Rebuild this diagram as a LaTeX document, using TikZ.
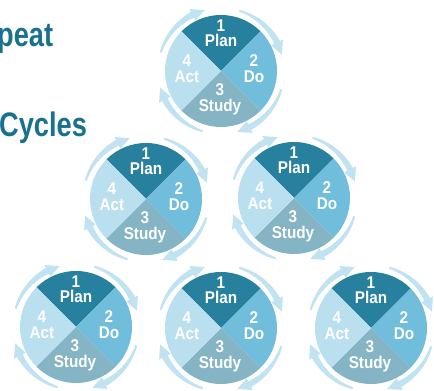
\documentclass[tikz,border=0pt]{standalone}
\usepackage{fontspec}
\setmainfont{Liberation Sans}
\usetikzlibrary{calc}
\definecolor{planC}{RGB}{38,128,158}
\definecolor{doC}{RGB}{112,189,220}
\definecolor{studyC}{RGB}{133,180,196}
\definecolor{actC}{RGB}{186,224,240}
\definecolor{ringC}{RGB}{192,226,241}
\definecolor{titleC}{RGB}{24,113,143}
\tikzset{
  ringarrow/.style={fill=ringC},
  lbl/.style={text=white, font=\bfseries\fontsize{17}{17}\selectfont, inner sep=0pt, anchor=base},
  ttl/.style={text=titleC, font=\bfseries\fontsize{34}{34}\selectfont, inner sep=0pt, anchor=base west}
}
\newcommand{\sq}[1]{\scalebox{0.9}[1]{#1}}
\newcommand{\pdsa}[2]{%
  \coordinate (#1) at #2;
  \foreach \t in {0,1,2,3}{
    \pgfmathsetmacro\ta{163-90*\t}
    \pgfmathsetmacro\tb{117-90*\t}
    \pgfmathsetmacro\tc{105-90*\t}
    \fill[ringarrow, shift={(#1)}]
      plot[domain=\ta:\tb, samples=18] (\x:{64+2.2*(\ta-\x)/(\ta-\tb)})
      -- (\tb:69.5) -- (\tc:63) -- (\tb:56.5)
      -- plot[domain=\tb:\ta, samples=18] (\x:{62-2.2*(\ta-\x)/(\ta-\tb)})
      -- cycle;
  }
  \fill[planC] (#1) -- ++(45:56) arc[start angle=45, end angle=135, radius=56] -- cycle;
  \fill[doC] (#1) -- ++(-45:56) arc[start angle=-45, end angle=45, radius=56] -- cycle;
  \fill[studyC] (#1) -- ++(225:56) arc[start angle=225, end angle=315, radius=56] -- cycle;
  \fill[actC] (#1) -- ++(135:56) arc[start angle=135, end angle=225, radius=56] -- cycle;
  \node[lbl] (#1-n1) at ($(#1)+(0,39.5)$) {\sq{1}};
  \node[lbl] (#1-plan) at ($(#1)+(0,24)$) {\sq{Plan}};
  \node[lbl] (#1-n2) at ($(#1)+(33,4.5)$) {\sq{2}};
  \node[lbl] (#1-do) at ($(#1)+(33,-12)$) {\sq{Do}};
  \node[lbl] (#1-n3) at ($(#1)+(-1,-24.5)$) {\sq{3}};
  \node[lbl] (#1-study) at ($(#1)+(-1,-41)$) {\sq{Study}};
  \node[lbl] (#1-n4) at ($(#1)+(-34,4.5)$) {\sq{4}};
  \node[lbl] (#1-act) at ($(#1)+(-34,-12)$) {\sq{Act}};
}
\begin{document}
\begin{tikzpicture}[x=1pt,y=1pt]
\useasboundingbox (0,0) rectangle (434,391);
\node[ttl] (t1) at (-3,344.5) {\scalebox{0.8}[1]{peat}};
\node[ttl] (t2) at (-1,254) {\scalebox{0.8}[1]{Cycles}};
\pdsa{A}{(221,320)}
\pdsa{B}{(146,192)}
\pdsa{C}{(294,193)}
\pdsa{D}{(76,64)}
\pdsa{E}{(221,63)}
\pdsa{F}{(371,63)}
\end{tikzpicture}
\end{document}
